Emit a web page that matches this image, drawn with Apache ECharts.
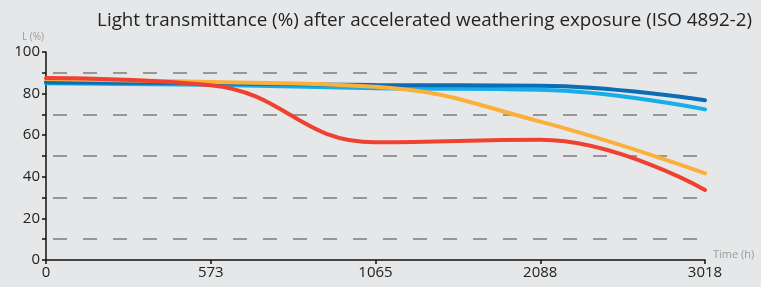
<!DOCTYPE html>
<html>
<head>
<meta charset="utf-8">
<script src="https://cdn.jsdelivr.net/npm/echarts@6/dist/echarts.min.js"></script>
<style>
  html, body { margin: 0; padding: 0; background: #e6e7e8; }
  #chart { width: 761px; height: 287px; }
</style>
</head>
<body>
<div id="chart"></div>
<script>
// 时间轴 (h)
const hours = ['0', '573', '1065', '2088', '3018'];
// 各曲线透光率 (%)
const darkBlue = [85.5, 85, 84.1, 83.8, 76.8];
const lightBlue = [85, 84.2, 82.6, 81.8, 72.4];
const orange = [87, 85.6, 83.3, 66.5, 41.7];
const red = [87.5, 84, 56.6, 57.8, 33.7];
// 虚线网格位置
const dashLevels = [10, 30, 50, 70, 90];

const chart = echarts.init(document.getElementById('chart'));

const lineSeries = (data, color, z) => ({
  type: 'line',
  data: data,
  smooth: 0.45,
  symbol: 'none',
  z: z,
  lineStyle: { color: color, width: 4, cap: 'round' }
});

const option = {
  backgroundColor: '#e6e7e8',
  animation: false,
  title: {
    text: 'Light transmittance (%) after accelerated weathering exposure (ISO 4892-2)',
    right: 4,
    top: 6,
    textStyle: { fontFamily: 'Open Sans', fontSize: 18.8, fontWeight: 'normal', color: '#222' }
  },
  grid: { left: 46, right: 56, top: 52, bottom: 27 },
  xAxis: {
    type: 'category',
    data: hours,
    boundaryGap: false,
    name: 'Time (h)',
    nameLocation: 'end',
    nameGap: 8,
    nameTextStyle: { color: '#9a9a9a', fontSize: 11, fontFamily: 'Open Sans', verticalAlign: 'bottom' },
    axisLine: { lineStyle: { color: '#111', width: 1.5 } },
    axisTick: { length: 4, lineStyle: { color: '#111', width: 1.5 } },
    axisLabel: { color: '#222', fontSize: 15, margin: 5, fontFamily: 'Open Sans' },
    splitLine: { show: false }
  },
  yAxis: {
    type: 'value',
    min: 0,
    max: 100,
    interval: 10,
    name: 'L (%)',
    nameLocation: 'end',
    nameGap: 10,
    nameTextStyle: { color: '#9a9a9a', fontSize: 10, fontFamily: 'Open Sans', align: 'right', padding: [0, 2, 0, 0] },
    axisLine: { show: true, lineStyle: { color: '#111', width: 1.5 } },
    axisTick: { show: true, length: 4, lineStyle: { color: '#111', width: 1.5 } },
    axisLabel: {
      color: '#222',
      fontSize: 15,
      margin: 6,
      fontFamily: 'Open Sans',
      formatter: v => (v % 20 === 0 ? String(v) : '')
    },
    splitLine: { show: false }
  },
  series: [
    Object.assign(lineSeries(lightBlue, '#16aee8', 3), {
      markLine: {
        silent: true,
        symbol: 'none',
        label: { show: false },
        lineStyle: { color: '#7d7d7d', width: 1.5, type: [14, 16], dashOffset: 23 },
        data: dashLevels.map(v => ({ yAxis: v }))
      }
    }),
    lineSeries(darkBlue, '#0b6db5', 4),
    lineSeries(orange, '#fbb03b', 5),
    lineSeries(red, '#ef4130', 6)
  ]
};

chart.setOption(option);
</script>
</body>
</html>
